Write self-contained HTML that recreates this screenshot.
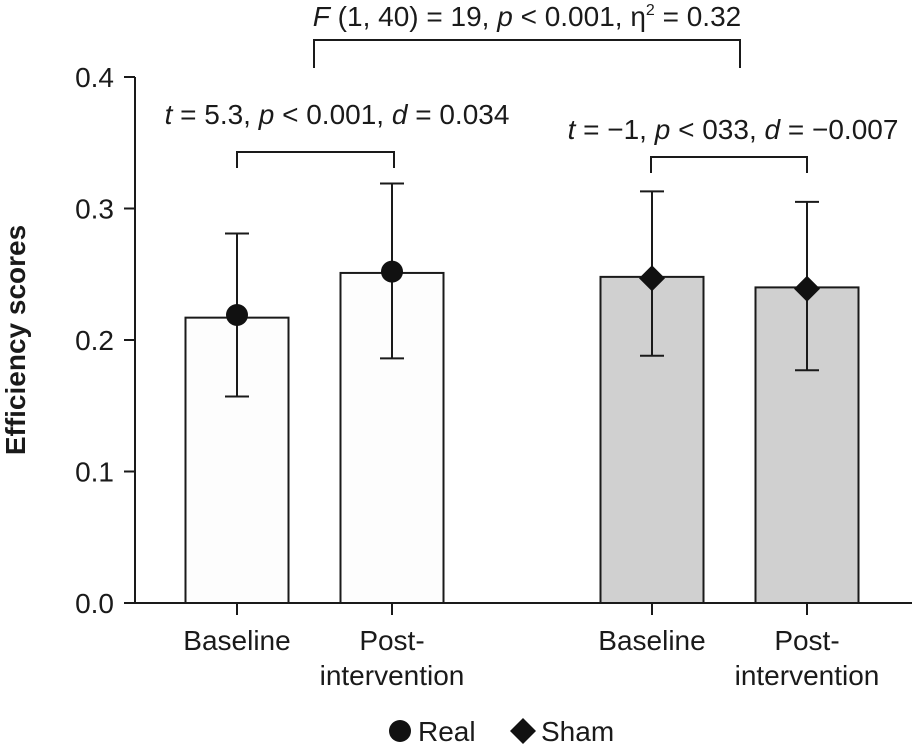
<!DOCTYPE html>
<html><head><meta charset="utf-8"><style>
html,body{margin:0;padding:0;background:#fff}
svg{display:block}
text{font-family:"Liberation Sans",sans-serif;fill:#1a1a1a}
</style></head><body>
<svg id="c" width="917" height="744"></svg>
<script>
const categories=["Baseline","Post-intervention","Baseline","Post-intervention"];
const groups=["Real","Real","Sham","Sham"];
const barValues=[0.217,0.251,0.248,0.240];
const markerValues=[0.219,0.252,0.247,0.239];
const errHigh=[0.281,0.319,0.313,0.305];
const errLow=[0.157,0.186,0.188,0.177];
const yTicks=[0,0.1,0.2,0.3,0.4];
const yTickLabels=["0.0","0.1","0.2","0.3","0.4"];

const NS="http://www.w3.org/2000/svg";
const svg=document.getElementById('c');
const y0=603,yScale=1315;
const yPos=v=>y0-v*yScale;
const centers=[237,392,652,807];
const xPos=i=>centers[i];
const bw=103;
function el(t,a,p){const e=document.createElementNS(NS,t);for(const k in a)e.setAttribute(k,a[k]);(p||svg).appendChild(e);return e;}
function txt(s,a){const e=el('text',a);e.innerHTML=s;return e;}

let e=el('line',{x1:135,y1:77,x2:135,y2:y0,stroke:'#1a1a1a','stroke-width':2});


e=el('line',{x1:134,y1:y0,x2:912,y2:y0,stroke:'#1a1a1a','stroke-width':2});


yTicks.forEach((v,i)=>{
  const t=el('line',{x1:124,y1:yPos(v),x2:135,y2:yPos(v),stroke:'#1a1a1a','stroke-width':2});
  
  
  const l=txt(yTickLabels[i],{x:114,y:yPos(v)+10,'text-anchor':'end','font-size':28});
  
  
});
const yt=txt('Efficiency scores',{x:0,y:0,'font-size':28,'font-weight':'bold','text-anchor':'middle',transform:'translate(25,340) rotate(-90)'});



barValues.forEach((v,i)=>{
  const cx=xPos(i);
  const b=el('rect',{x:cx-bw/2,y:yPos(v),width:bw,height:y0-yPos(v),fill:groups[i]==='Real'?'#fdfdfd':'#d0d0d0',stroke:'#1a1a1a','stroke-width':2});
  
  
  const er=el('path',{d:`M${cx},${yPos(errHigh[i])}V${yPos(errLow[i])}M${cx-12},${yPos(errHigh[i])}H${cx+12}M${cx-12},${yPos(errLow[i])}H${cx+12}`,stroke:'#1a1a1a','stroke-width':2,fill:'none'});
  
  
  const my=yPos(markerValues[i]);
  let m;
  if(groups[i]==='Real') m=el('circle',{cx:cx,cy:my,r:11,fill:'#111'});
  else m=el('path',{d:`M${cx},${my-13}L${cx+13},${my}L${cx},${my+13}L${cx-13},${my}Z`,fill:'#111'});
  
  
  const tk=el('line',{x1:cx,y1:y0,x2:cx,y2:y0+12,stroke:'#1a1a1a','stroke-width':2});
  
  
  const parts=categories[i]==='Baseline'?['Baseline']:['Post-','intervention'];
  parts.forEach((p,j)=>{
    const l=txt(p,{x:cx,y:650+j*35,'text-anchor':'middle','font-size':28});
    
    
  });
});

function bracket(x1,x2,y,h,name){
  const b=el('path',{d:`M${x1},${y+h}V${y}H${x2}V${y+h}`,stroke:'#1a1a1a','stroke-width':2,fill:'none'});
  
  
}
bracket(314,740,40,28,'anova-bracket');
bracket(237,394,152,16,'real-bracket');
bracket(651,807,157,16,'sham-bracket');
let a=txt('<tspan font-style="italic">F</tspan> (1, 40) = 19, <tspan font-style="italic">p</tspan> &lt; 0.001, η<tspan font-size="16" dy="-11">2</tspan><tspan dy="11"> = 0.32</tspan>',{x:527,y:26,'text-anchor':'middle','font-size':28});


a=txt('<tspan font-style="italic">t</tspan> = 5.3, <tspan font-style="italic">p</tspan> &lt; 0.001, <tspan font-style="italic">d</tspan> = 0.034',{x:337,y:124,'text-anchor':'middle','font-size':28});


a=txt('<tspan font-style="italic">t</tspan> = −1, <tspan font-style="italic">p</tspan> &lt; 033, <tspan font-style="italic">d</tspan> = −0.007',{x:733,y:139,'text-anchor':'middle','font-size':28});



let lg=el('circle',{cx:400,cy:731,r:11,fill:'#111'});


a=txt('Real',{x:418,y:741,'font-size':28});


lg=el('path',{d:'M523,718L536,731L523,744L510,731Z',fill:'#111'});


a=txt('Sham',{x:541,y:741,'font-size':28});


</script>
</body></html>
